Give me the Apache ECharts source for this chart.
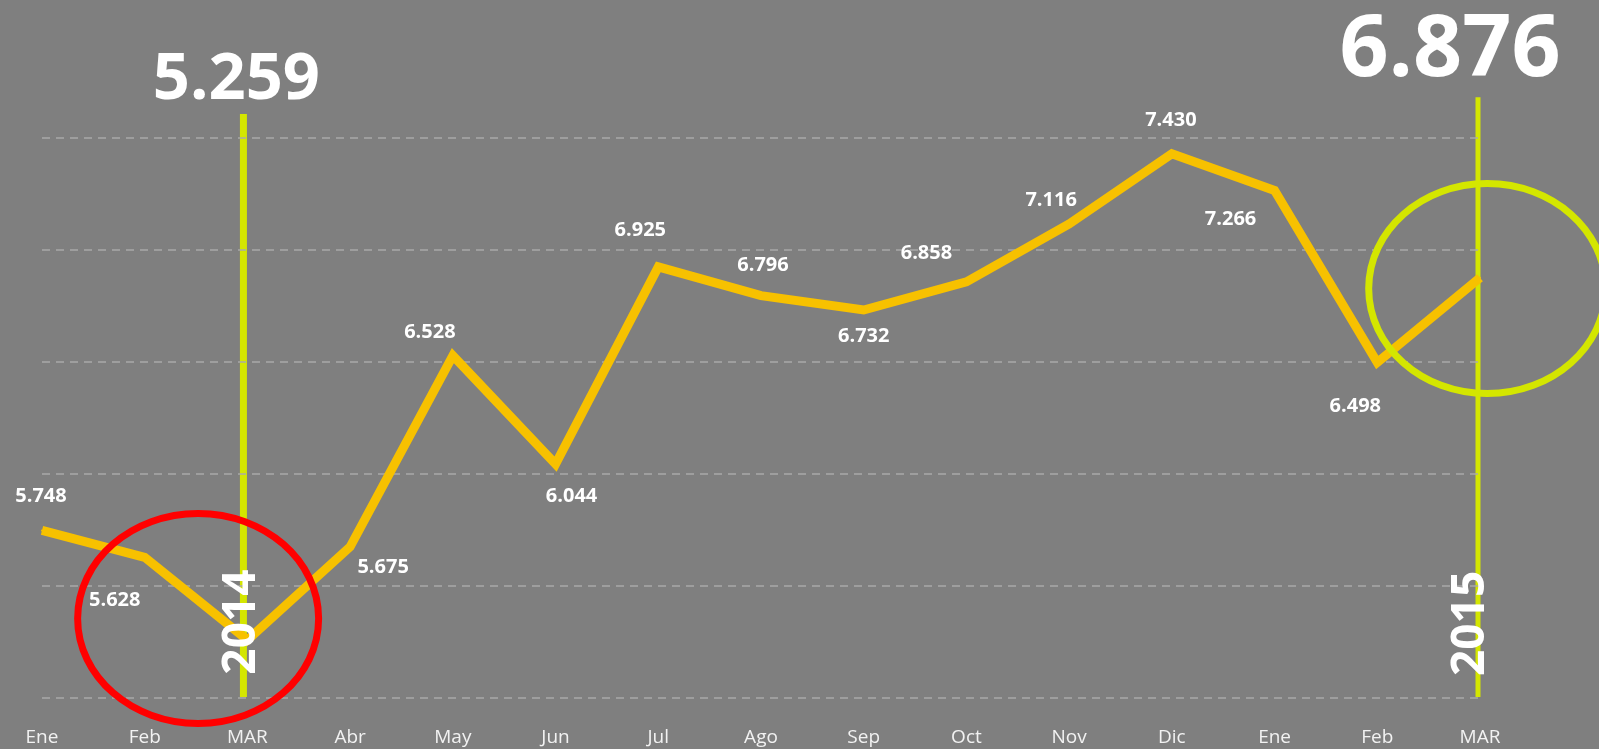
<!DOCTYPE html>
<html>
<head>
<meta charset="utf-8">
<script src="https://cdn.jsdelivr.net/npm/echarts@6/dist/echarts.min.js"></script>
<style>
  html, body { margin: 0; padding: 0; background: #7f7f7f; }
  #chart { width: 1599px; height: 749px; }
</style>
</head>
<body>
<div id="chart"></div>
<script>
const months = ['Ene', 'Feb', 'MAR', 'Abr', 'May', 'Jun', 'Jul', 'Ago', 'Sep', 'Oct', 'Nov', 'Dic', 'Ene', 'Feb', 'MAR'];
const sales = [5748, 5628, 5259, 5675, 6528, 6044, 6925, 6796, 6732, 6858, 7116, 7430, 7266, 6498, 6876];
const yMin = 5000;
const yMax = 7500;
const yStep = 500;
const years = ['2014', '2015'];
const yearIdx = [2, 14];

// label placement (px offsets from the point), null = no label
const labelOffsets = [
  [-1, -34], [-30, 43], null, [33, 20], [-23, -23], [16, 32], [-18, -37],
  [2, -30], [0, 26], [-40, -29], [-18, -24], [-1, -33], [-44, 29], [-22, 44], null,
];

const fontFamily = "'Open Sans', 'Noto Sans', sans-serif";
const lineColor = '#F7C100';
const markColor = '#D4E600';
const symSize = 2;

const fmt = (v) => Math.floor(v / 1000) + '.' + String(v % 1000).padStart(3, '0');

const chart = echarts.init(document.getElementById('chart'));

const option = {
  backgroundColor: '#7f7f7f',
  animation: false,
  textStyle: { fontFamily: fontFamily },
  grid: { left: 42, right: 119, top: 138, bottom: 51, containLabel: false },
  xAxis: {
    type: 'category',
    data: months,
    boundaryGap: false,
    axisLine: { show: false },
    axisTick: { show: false },
    axisLabel: { color: '#F2F2F2', fontSize: 19, margin: 30, interval: 0, fontFamily: fontFamily },
    splitLine: { show: false },
  },
  yAxis: {
    type: 'value',
    min: yMin,
    max: yMax,
    interval: yStep,
    axisLine: { show: false },
    axisTick: { show: false },
    axisLabel: { show: false },
    splitLine: { lineStyle: { type: [8, 6], color: '#A9A9A9', width: 1.5 } },
  },
  series: [
    {
      type: 'line',
      data: sales.map((v, i) => ({
        value: v,
        label: labelOffsets[i]
          ? {
              show: true,
              position: [symSize / 2 + labelOffsets[i][0], symSize / 2 + labelOffsets[i][1]],
              align: 'center',
              verticalAlign: 'middle',
            }
          : { show: false },
      })),
      symbol: 'circle',
      symbolSize: symSize,
      showSymbol: true,
      itemStyle: { color: lineColor },
      clip: false,
      lineStyle: { color: lineColor, width: 9, join: 'miter' },
      label: {
        show: true,
        color: '#FFFFFF',
        fontWeight: 'bold',
        fontSize: 20,
        fontFamily: fontFamily,
        formatter: (p) => fmt(p.value),
      },
      labelLayout: { hideOverlap: false },
      z: 3,
    },
  ],
};

chart.setOption(option);

// annotations placed through the chart's own scales
const px = (i, v) => {
  const p0 = chart.convertToPixel({ gridIndex: 0 }, [0, v]);
  const p1 = chart.convertToPixel({ gridIndex: 0 }, [1, v]);
  return [p0[0] + (p1[0] - p0[0]) * i, p0[1]];
};

// vertical guide lines at the two March points
const guides = [
  { i: yearIdx[0], top: 7607, dx: -4, width: 7, numDx: -7, numY: 7612, numSize: 65, yearDx: -2, yearV: 5339 },
  { i: yearIdx[1], top: 7682, dx: -2, width: 5, numDx: -28, numY: 7696, numSize: 86, yearDx: -7, yearV: 5333 },
];

const graphics = [];
guides.forEach((g, k) => {
  const bottom = px(g.i, yMin);
  const top = px(g.i, g.top);
  const x = bottom[0] + g.dx;
  graphics.push({
    type: 'line',
    z: -1,
    shape: { x1: x, y1: bottom[1] - 1, x2: x, y2: top[1] },
    style: { stroke: markColor, lineWidth: g.width },
  });
  const num = px(g.i, g.numY);
  graphics.push({
    type: 'text',
    z: 20,
    x: x + g.numDx,
    y: num[1],
    style: {
      text: fmt(sales[g.i]),
      fill: '#FFFFFF',
      fontSize: g.numSize,
      fontWeight: 'bold',
      fontFamily: fontFamily,
      align: 'center',
      verticalAlign: 'bottom',
    },
  });
  const yr = px(g.i, g.yearV);
  graphics.push({
    type: 'text',
    z: 20,
    x: x + g.yearDx,
    y: yr[1],
    rotation: Math.PI / 2,
    style: {
      text: years[k],
      fill: '#FFFFFF',
      fontSize: 46,
      fontWeight: 'bold',
      fontFamily: fontFamily,
      align: 'center',
      verticalAlign: 'middle',
    },
  });
});

// highlight rings: centre index, centre value, radii in px, colour
const rings = [
  { i: 1.52, v: 5355, rx: 120.5, ry: 105, color: '#FF0000' },
  { i: 14.07, v: 6828, rx: 118.5, ry: 105, color: markColor },
];
rings.forEach((r) => {
  const c = px(r.i, r.v);
  graphics.push({
    type: 'ellipse',
    z: 10,
    shape: { cx: c[0], cy: c[1], rx: r.rx, ry: r.ry },
    style: { fill: 'none', stroke: r.color, lineWidth: 7 },
  });
});

chart.setOption({ graphic: graphics });
</script>
</body>
</html>
